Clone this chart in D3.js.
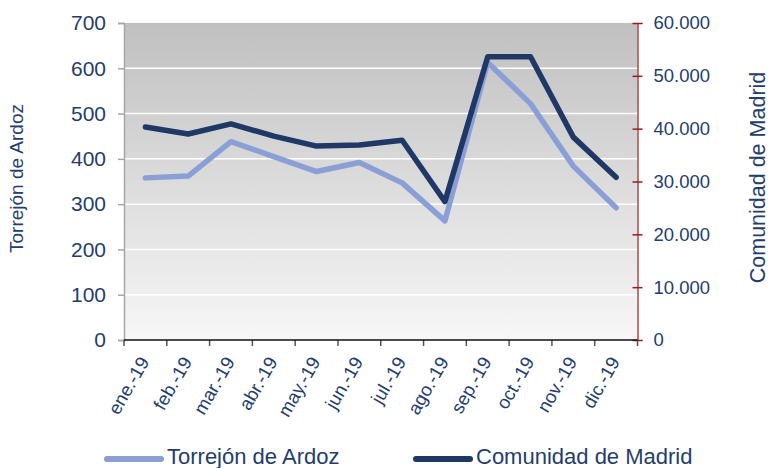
<!DOCTYPE html>
<html>
<head>
<meta charset="utf-8">
<script src="https://cdnjs.cloudflare.com/ajax/libs/d3/7.8.5/d3.min.js"></script>
<style>
  html, body { margin: 0; padding: 0; background: #fff; }
  svg { display: block; font-family: "Liberation Sans", Arial, sans-serif; }
</style>
</head>
<body>
<svg id="chart" width="769" height="468"></svg>
<script>
// Monthly figures, 2019
const months = ["ene.-19", "feb.-19", "mar.-19", "abr.-19", "may.-19", "jun.-19",
                "jul.-19", "ago.-19", "sep.-19", "oct.-19", "nov.-19", "dic.-19"];
const torrejon = [358, 362, 438, 405, 372, 392, 347, 263, 613, 522, 384, 292];
const comunidad = [40300, 39000, 40900, 38600, 36700, 36900, 37800, 26200, 53600, 53600, 38400, 30800];
const leftTicks = [0, 100, 200, 300, 400, 500, 600, 700];
const rightTicks = [0, 10000, 20000, 30000, 40000, 50000, 60000];
const seriesNames = ["Torrejón de Ardoz", "Comunidad de Madrid"];

const textColor = "#243d6b";
const lightColor = "#8a9fd6";
const darkColor = "#1f3866";

const svg = d3.select("#chart");
const m = { left: 124, right: 637.5, top: 23, bottom: 340 };

const x = d3.scaleBand().domain(months).range([m.left, m.right]).padding(0);
const yL = d3.scaleLinear().domain([0, 700]).range([m.bottom, m.top]);
const yR = d3.scaleLinear().domain([0, 60000]).range([m.bottom, m.top]);

// plot background gradient
const defs = svg.append("defs");
const grad = defs.append("linearGradient").attr("id", "bg")
  .attr("x1", 0).attr("y1", 0).attr("x2", 0).attr("y2", 1);
grad.append("stop").attr("offset", "0%").attr("stop-color", "#c0c0c0");
grad.append("stop").attr("offset", "100%").attr("stop-color", "#f7f7f7");

svg.append("rect")
  .attr("x", m.left).attr("y", m.top)
  .attr("width", m.right - m.left).attr("height", m.bottom - m.top)
  .attr("fill", "url(#bg)");

// horizontal gridlines
svg.append("g").selectAll("line")
  .data(leftTicks.filter(d => d > 0 && d < 700))
  .join("line")
  .attr("x1", m.left).attr("x2", m.right)
  .attr("y1", d => yL(d)).attr("y2", d => yL(d))
  .attr("stroke", "#ffffff").attr("stroke-width", 1.5);

// left axis
const gL = svg.append("g").attr("transform", `translate(${m.left},0)`)
  .call(d3.axisLeft(yL).tickValues(leftTicks).tickSize(6).tickPadding(12).tickFormat(d3.format("d")));
gL.select(".domain").attr("stroke", "#a6a6a6").attr("stroke-width", 1.5);
gL.selectAll(".tick line").attr("stroke", "#a6a6a6").attr("stroke-width", 1.5);
gL.selectAll(".tick text").attr("fill", textColor).attr("font-size", 21)
  .attr("font-family", "Liberation Sans, Arial, sans-serif");

// right axis, thousands with a dot separator
const fmtR = d => d === 0 ? "0" : d3.format(",")(d).replace(/,/g, ".");
const gR = svg.append("g").attr("transform", `translate(${m.right},0)`)
  .call(d3.axisRight(yR).tickValues(rightTicks).tickSize(5).tickPadding(11).tickFormat(fmtR));
gR.select(".domain").attr("stroke", "#9b1c1c").attr("stroke-width", 1.2);
gR.selectAll(".tick line").attr("stroke", "#9b1c1c").attr("stroke-width", 1.5).attr("x1", -5);
gR.selectAll(".tick text").attr("fill", textColor).attr("font-size", 18.5)
  .attr("font-family", "Liberation Sans, Arial, sans-serif");

// bottom axis: ticks on category boundaries
const bounds = months.map(d => x(d)).concat([m.right]);
svg.append("g").selectAll("line")
  .data(bounds)
  .join("line")
  .attr("x1", d => d).attr("x2", d => d)
  .attr("y1", m.bottom).attr("y2", m.bottom + 6)
  .attr("stroke", "#555").attr("stroke-width", 1.5);
svg.append("line")
  .attr("x1", m.left).attr("x2", m.right)
  .attr("y1", m.bottom).attr("y2", m.bottom)
  .attr("stroke", "#111").attr("stroke-width", 1.5);

// rotated month labels
svg.append("g").selectAll("text")
  .data(months)
  .join("text")
  .attr("transform", d => `translate(${x(d) + x.bandwidth() / 2 - 7},${m.bottom + 15}) rotate(-60)`)
  .attr("text-anchor", "end")
  .attr("dy", "0.71em")
  .attr("fill", textColor)
  .attr("font-size", 18.5)
  .text(d => d);

// series lines
const cx = d => x(d) + x.bandwidth() / 2;
const lineL = d3.line().x((d, i) => cx(months[i])).y(d => yL(d));
const lineR = d3.line().x((d, i) => cx(months[i])).y(d => yR(d));

svg.append("path").datum(torrejon)
  .attr("d", lineL).attr("fill", "none")
  .attr("stroke", lightColor).attr("stroke-width", 5.5)
  .attr("stroke-linejoin", "round").attr("stroke-linecap", "round");
svg.append("path").datum(comunidad)
  .attr("d", lineR).attr("fill", "none")
  .attr("stroke", darkColor).attr("stroke-width", 5.5)
  .attr("stroke-linejoin", "round").attr("stroke-linecap", "round");

// axis titles
svg.append("text")
  .attr("transform", "translate(23,178.5) rotate(-90)")
  .attr("text-anchor", "middle")
  .attr("fill", textColor).attr("font-size", 19)
  .text(seriesNames[0]);
svg.append("text")
  .attr("transform", "translate(765,177.5) rotate(-90)")
  .attr("text-anchor", "middle")
  .attr("fill", textColor).attr("font-size", 21.5)
  .text(seriesNames[1]);

// legend
const legend = [
  { name: seriesNames[0], color: lightColor, x: 107 },
  { name: seriesNames[1], color: darkColor, x: 416 }
];
const lg = svg.append("g").selectAll("g").data(legend).join("g")
  .attr("transform", d => `translate(${d.x},459)`);
lg.append("line")
  .attr("x1", 0).attr("x2", 54).attr("y1", 0).attr("y2", 0)
  .attr("stroke", d => d.color).attr("stroke-width", 6).attr("stroke-linecap", "round");
lg.append("text")
  .attr("x", 60).attr("y", 4.5)
  .attr("fill", textColor).attr("font-size", 22)
  .text(d => d.name);
</script>
</body>
</html>
